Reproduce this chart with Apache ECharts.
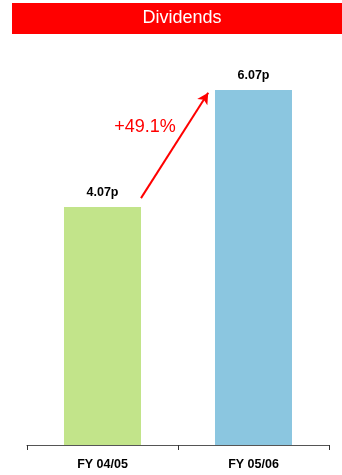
<!DOCTYPE html>
<html><head><meta charset="utf-8">
<script src="https://cdn.jsdelivr.net/npm/echarts@6/dist/echarts.min.js"></script>
<style>html,body{margin:0;padding:0;background:#fff}#c{width:342px;height:475px}</style>
</head><body><div id="c"></div>
<script>
const titleText = 'Dividends';
const categories = ['FY 04/05', 'FY 05/06'];
const dividends = [4.07, 6.07];
const valueLabels = ['4.07p', '6.07p'];
const barColors = ['#C2E48A', '#8BC6E0'];
const growthLabel = '+49.1%';
// arrow annotation endpoints in data units: [category position, value]
const arrowFrom = [0.255, 4.22];
const arrowTo = [0.7, 6.02];

const chart = echarts.init(document.getElementById('c'));
const font = 'Liberation Sans, Arial, sans-serif';
chart.setOption({
  animation: false,
  graphic: [
    { type: 'rect', shape: { x: 12, y: 3, width: 340, height: 31 }, style: { fill: '#FF0000' } },
    { type: 'text', x: 182, y: 18.5, style: { text: titleText, fill: '#fff', font: '18px ' + font, textAlign: 'center', textVerticalAlign: 'middle' } },
    { type: 'text', x: 145, y: 127, style: { text: growthLabel, fill: '#FF0000', font: '18px ' + font, textAlign: 'center', textVerticalAlign: 'middle' } }
  ],
  grid: { left: 27, right: 13, top: 35.5, bottom: 30 },
  xAxis: [
    {
      type: 'category', data: categories,
      axisLine: { show: true, lineStyle: { color: '#555', width: 1 } },
      axisTick: { show: true, alignWithLabel: false, length: 5, lineStyle: { color: '#333', width: 1 } },
      axisLabel: { color: '#000', fontWeight: 'bold', fontSize: 12.5, fontFamily: font, margin: 13 }
    },
    { type: 'value', min: -0.5, max: 1.5, show: false }
  ],
  yAxis: { type: 'value', min: 0, max: 7, show: false },
  series: [
    {
      type: 'bar', barWidth: '51%',
      data: dividends.map((v, i) => ({ value: v, itemStyle: { color: barColors[i] } })),
      label: {
        show: true, position: 'top', distance: 8,
        formatter: p => valueLabels[p.dataIndex],
        color: '#000', fontWeight: 'bold', fontSize: 12.5, fontFamily: font
      }
    },
    {
      type: 'line', xAxisIndex: 1, data: [], silent: true,
      markLine: {
        silent: true, symbol: ['none', 'arrow'], symbolSize: [9, 11],
        label: { show: false },
        lineStyle: { color: '#FF0000', width: 2, type: 'solid' },
        data: [[{ coord: arrowFrom }, { coord: arrowTo }]]
      }
    }
  ]
});
</script></body></html>
